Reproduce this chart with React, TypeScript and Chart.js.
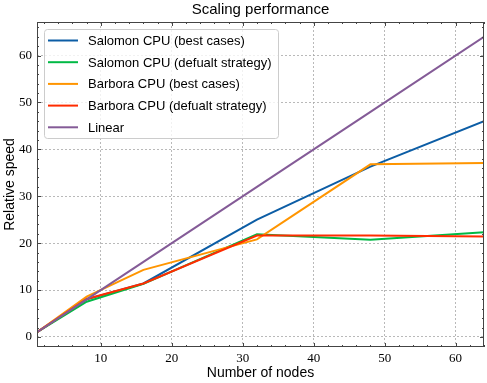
import React, { useEffect, useRef } from "react";
import { Chart, registerables } from "chart.js";

Chart.register(...registerables);

const nodes = [1, 8, 16, 32, 48, 64];
const salomonBest = [1, 8.0, 11.4, 25.0, 36.3, 46.0];
const salomonDefault = [1, 7.5, 11.3, 21.9, 20.7, 22.3];
const barboraBest = [1, 8.6, 14.3, 20.8, 36.8, 37.1];
const barboraDefault = [1, 8.1, 11.4, 21.6, 21.6, 21.4];
const linear = [1, 8, 16, 32, 48, 64];

const seriesLabels = [
  "Salomon CPU (best cases)",
  "Salomon CPU (defualt strategy)",
  "Barbora CPU (best cases)",
  "Barbora CPU (defualt strategy)",
  "Linear",
];
const seriesColors = ["#0C5DA5", "#00B945", "#FF9500", "#FF2C00", "#845B97"];
const seriesValues = [salomonBest, salomonDefault, barboraBest, barboraDefault, linear];

const xMajor = [10, 20, 30, 40, 50, 60];
const yMajor = [0, 10, 20, 30, 40, 50, 60];
const xMin = 1, xMax = 64, yMin = -2.15, yMax = 67.15;

const titleText = "Scaling performance";
const xTitle = "Number of nodes";
const yTitle = "Relative speed";

const SANS = "'Liberation Sans', Arial, sans-serif";
const SERIF = "'Liberation Serif', 'Times New Roman', serif";

const framePlugin = {
  id: "frame",
  afterDraw(chart: any) {
    const { ctx, chartArea: a, scales } = chart;
    const xs = scales.x, ys = scales.y;
    ctx.save();
    ctx.strokeStyle = "#444";
    ctx.lineWidth = 1;
    ctx.strokeRect(a.left + 0.5, a.top + 0.5, a.right - a.left - 1, a.bottom - a.top - 1);
    ctx.beginPath();
    for (let v = 2; v <= 64; v += 2) {
      if (v < xMin || v > xMax) continue;
      const px = Math.round(xs.getPixelForValue(v)) + 0.5;
      const len = v % 10 === 0 ? 4 : 2;
      ctx.moveTo(px, a.bottom); ctx.lineTo(px, a.bottom - len);
      ctx.moveTo(px, a.top); ctx.lineTo(px, a.top + len);
    }
    for (let v = -2; v <= 66; v += 2) {
      if (v < yMin || v > yMax) continue;
      const py = Math.round(ys.getPixelForValue(v)) + 0.5;
      const len = v % 10 === 0 ? 4 : 2;
      ctx.moveTo(a.left, py); ctx.lineTo(a.left + len, py);
      ctx.moveTo(a.right, py); ctx.lineTo(a.right - len, py);
    }
    ctx.stroke();

    // title
    ctx.fillStyle = "#000";
    ctx.font = `15px ${SANS}`;
    ctx.textAlign = "center";
    ctx.textBaseline = "middle";
    ctx.fillText(titleText, (a.left + a.right) / 2, 10);

    // legend
    const lx = a.left + 7, ly = a.top + 7, lw = 234, lh = 109;
    ctx.beginPath();
    ctx.roundRect(lx + 0.5, ly + 0.5, lw, lh, 3);
    ctx.fillStyle = "rgba(255,255,255,0.8)";
    ctx.fill();
    ctx.strokeStyle = "#cccccc";
    ctx.lineWidth = 1;
    ctx.stroke();
    ctx.font = `13px ${SANS}`;
    ctx.textAlign = "left";
    chart.data.datasets.forEach((ds: any, i: number) => {
      const cy = ly + 11.5 + i * 21.7;
      ctx.strokeStyle = ds.borderColor;
      ctx.lineWidth = 2;
      ctx.beginPath();
      ctx.moveTo(lx + 4, cy);
      ctx.lineTo(lx + 34, cy);
      ctx.stroke();
      ctx.fillStyle = "#000";
      ctx.fillText(ds.label, lx + 44, cy + 1);
    });
    ctx.restore();
  },
};

export default function App() {
  const ref = useRef<HTMLCanvasElement | null>(null);
  useEffect(() => {
    if (!ref.current) return;
    const chart = new Chart(ref.current, {
      type: "line",
      data: {
        datasets: seriesValues.map((vals, i) => ({
          label: seriesLabels[i],
          data: nodes.map((x, j) => ({ x, y: vals[j] })),
          borderColor: seriesColors[i],
          backgroundColor: seriesColors[i],
          borderWidth: 2,
          pointRadius: 0,
          tension: 0,
          fill: false,
          order: seriesValues.length - i,
        })),
      },
      options: {
        animation: false,
        responsive: false,
        layout: { padding: { top: 22, right: 3, left: 0, bottom: 0 } },
        plugins: { legend: { display: false }, tooltip: { enabled: false }, title: { display: false } },
        scales: {
          x: {
            type: "linear",
            min: xMin,
            max: xMax,
            afterBuildTicks: (s: any) => { s.ticks = xMajor.map((v) => ({ value: v })); },
            afterFit: (s: any) => { s.height = 36; },
            grid: { color: "#a8a8a8", lineWidth: 0.8, drawTicks: false },
            border: { display: false, dash: [2, 2] },
            ticks: { padding: 4, color: "#000", font: { family: SERIF, size: 13 }, maxRotation: 0 },
            title: { display: true, text: xTitle, color: "#000", font: { family: SANS, size: 14 }, padding: { top: 0, bottom: 1 } },
          },
          y: {
            type: "linear",
            min: yMin,
            max: yMax,
            afterBuildTicks: (s: any) => { s.ticks = yMajor.map((v) => ({ value: v })); },
            afterFit: (s: any) => { s.width = 37; },
            grid: { color: "#a8a8a8", lineWidth: 0.8, drawTicks: false },
            border: { display: false, dash: [2, 2] },
            ticks: { padding: 5, color: "#000", font: { family: SERIF, size: 13 } },
            title: { display: true, text: yTitle, color: "#000", font: { family: SANS, size: 14 }, padding: { top: 2, bottom: 0 } },
          },
        },
      } as any,
      plugins: [framePlugin],
    });
    return () => chart.destroy();
  }, []);
  return (
    <div style={{ position: "absolute", left: 0, top: 0 }}>
      <canvas ref={ref} width={487} height={383} style={{ display: "block" }} />
    </div>
  );
}
